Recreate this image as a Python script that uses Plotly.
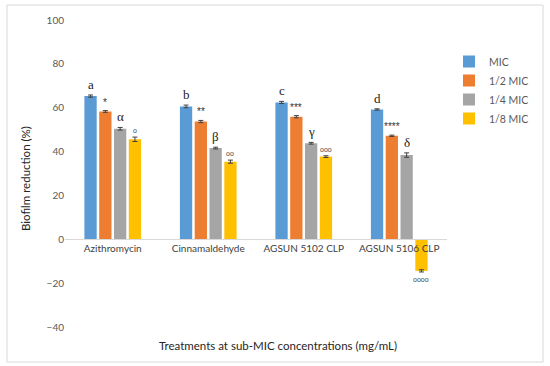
import plotly.graph_objects as go

categories = ["Azithromycin", "Cinnamaldehyde", "AGSUN 5102 CLP", "AGSUN 5106 CLP"]
series_names = ["MIC", "1/2 MIC", "1/4 MIC", "1/8 MIC"]
mic = [65.3, 60.6, 62.4, 59.2]
half_mic = [58.3, 53.7, 55.9, 47.2]
quarter_mic = [50.4, 41.6, 43.8, 38.4]
eighth_mic = [45.6, 35.4, 37.7, -14.4]
err_mic = [0.5, 0.6, 0.5, 0.3]
err_half = [0.4, 0.5, 0.5, 0.3]
err_quarter = [0.6, 0.4, 0.4, 1.0]
err_eighth = [1.0, 0.7, 0.4, 0.5]
labels_mic = ["a", "b", "c", "d"]
labels_half = ["*", "**", "***", "****"]
labels_quarter = ["α", "β", "γ", "δ"]
labels_eighth = ["o", "oo", "ooo", "oooo"]
y_ticks = [-40, -20, 0, 20, 40, 60, 80, 100]

colors = ["#5B9BD5", "#ED7D31", "#A5A5A5", "#FFC000"]
values = [mic, half_mic, quarter_mic, eighth_mic]
errors = [err_mic, err_half, err_quarter, err_eighth]
labels = [labels_mic, labels_half, labels_quarter, labels_eighth]

fig = go.Figure()
for name, vals, errs, col in zip(series_names, values, errors, colors):
    fig.add_trace(go.Bar(
        name=name, x=categories, y=vals, marker_color=col,
        marker_line_width=0,
        error_y=dict(type="data", array=errs, color="#404040", thickness=1, width=2.5),
    ))

# plot area in pixels: x 65..447, y 20..327
L, R, T, B = 65, 447, 20, 327
W, H = R - L, B - T


def px(xp):
    return (xp - L) / W


def py(yp):
    return (B - yp) / H


bargap = 0.38
slot = (1 - bargap) / 4
annotations = []
for s, (vals, errs, labs) in enumerate(zip(values, errors, labels)):
    for i, (v, e, lab) in enumerate(zip(vals, errs, labs)):
        xpos = i + (s - 1.5) * slot
        if v >= 0:
            yv, yanchor = v + e, "bottom"
        else:
            yv, yanchor = v - e, "top"
        if s == 0 or s == 2:
            font = dict(family="Liberation Serif, serif", size=13, color="#222222")
        elif s == 1:
            font = dict(family="Liberation Sans, sans-serif", size=10, color="#333333")
        else:
            font = dict(family="Liberation Sans, sans-serif", size=7, color="#444444")
        annotations.append(dict(x=xpos, y=yv, xref="x", yref="y", text=lab,
                                showarrow=False, yanchor=yanchor, font=font,
                                yshift=1 if v >= 0 else -2))

annotations.append(dict(x=px(278), y=py(345), xref="paper", yref="paper",
                        text="Treatments at sub-MIC concentrations (mg/mL)",
                        showarrow=False, yanchor="middle", xanchor="center",
                        font=dict(family="Lato, sans-serif", size=11.5, color="#262626")))
annotations.append(dict(x=px(25), y=py(179), xref="paper", yref="paper",
                        text="Biofilm reduction (%)", textangle=-90,
                        showarrow=False, yanchor="middle", xanchor="center",
                        font=dict(family="Lato, sans-serif", size=11.5, color="#262626")))

fig.update_layout(
    barmode="group", bargap=bargap, bargroupgap=0.17,
    width=550, height=366,
    margin=dict(l=L, r=550 - R, t=T, b=366 - B, autoexpand=False),
    paper_bgcolor="white", plot_bgcolor="white",
    font=dict(family="Lato, sans-serif", size=10, color="#595959"),
    annotations=annotations,
    showlegend=True,
    legend=dict(x=px(449), y=py(47), xanchor="left", yanchor="top",
                font=dict(size=10.5, color="#595959"), bgcolor="rgba(0,0,0,0)",
                itemwidth=30, tracegroupgap=0),
    xaxis=dict(anchor="free", position=40 / 140, showline=True, linecolor="#D9D9D9",
               linewidth=1, ticks="", showgrid=False, range=[-0.5, 3.5],
               tickangle=0, automargin=False,
               tickfont=dict(size=10, color="#404040")),
    yaxis=dict(range=[-40, 100], tickvals=y_ticks, showgrid=False, zeroline=False,
               showline=False, ticks="", automargin=False,
               tickfont=dict(size=10, color="#595959")),
    shapes=[dict(type="rect", xref="paper", yref="paper",
                 x0=px(7), x1=px(543), y0=py(362), y1=py(5),
                 line=dict(color="#D9D9D9", width=1), layer="below")],
)

fig.write_html("out.html", config={"displayModeBar": False},
               post_script="document.body.style.margin='0';")
